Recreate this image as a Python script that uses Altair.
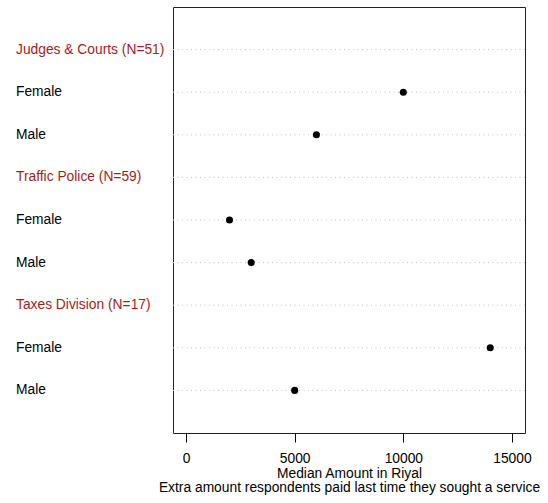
import altair as alt
import pandas as pd

# Rows from top to bottom: group header followed by its Female/Male medians
row_labels = [
    "Judges & Courts (N=51)", "Female", "Male",
    "Traffic Police (N=59)", "Female", "Male",
    "Taxes Division (N=17)", "Female", "Male",
]
row_kind = ["group", "item", "item"] * 3
row_values = [None, 10000, 6000, None, 2000, 3000, None, 14000, 5000]
row_pos = [9, 8, 7, 6, 5, 4, 3, 2, 1]

x_ticks = [0, 5000, 10000, 15000]

df = pd.DataFrame({
    "label": row_labels,
    "kind": row_kind,
    "value": row_values,
    "pos": row_pos,
})

W, H = 352, 426
FONT = "Liberation Sans"
FS = 13.8

y_scale = alt.Scale(domain=[0, 10], nice=False, zero=False)
x_scale = alt.Scale(domain=[-600, 15600], nice=False, zero=False)

base = alt.Chart(df)

grid = base.mark_rule(color="#c0c0c0", strokeDash=[1, 3.5], strokeWidth=1).encode(
    x=alt.value(0),
    x2=alt.value(W),
    y=alt.Y("pos:Q", scale=y_scale, axis=None),
)

labels = base.mark_text(align="left", baseline="middle", font=FONT, fontSize=FS).encode(
    x=alt.value(-157),
    y=alt.Y("pos:Q", scale=y_scale, axis=None),
    text="label:N",
    color=alt.Color(
        "kind:N",
        scale=alt.Scale(domain=["group", "item"], range=["#a31d1d", "black"]),
        legend=None,
    ),
)

points = base.transform_filter("datum.value != null").mark_circle(
    color="black", opacity=1, size=50
).encode(
    x=alt.X(
        "value:Q",
        scale=x_scale,
        axis=alt.Axis(
            values=x_ticks,
            format="d",
            domain=False,
            grid=False,
            ticks=True,
            tickSize=9,
            tickColor="black",
            labelColor="black",
            labelFont=FONT,
            labelFontSize=FS,
            labelPadding=9,
            labelFlush=False,
            title=["Median Amount in Riyal",
                   "Extra amount respondents paid last time they sought a service"],
            titleFont=FONT,
            titleFontSize=FS,
            titleFontWeight="normal",
            titleColor="black",
            titlePadding=2,
            titleLineHeight=14,
        ),
    ),
    y=alt.Y("pos:Q", scale=y_scale, axis=None),
)

chart = alt.layer(grid, labels, points).properties(
    width=W,
    height=H,
    autosize=alt.AutoSizeParams(type="none"),
    padding={"left": 173, "top": 7, "right": 23, "bottom": 70},
    background="white",
).configure_view(stroke="#222222", strokeWidth=1)

chart.save("out.html", embed_options={"renderer": "svg", "actions": False})
